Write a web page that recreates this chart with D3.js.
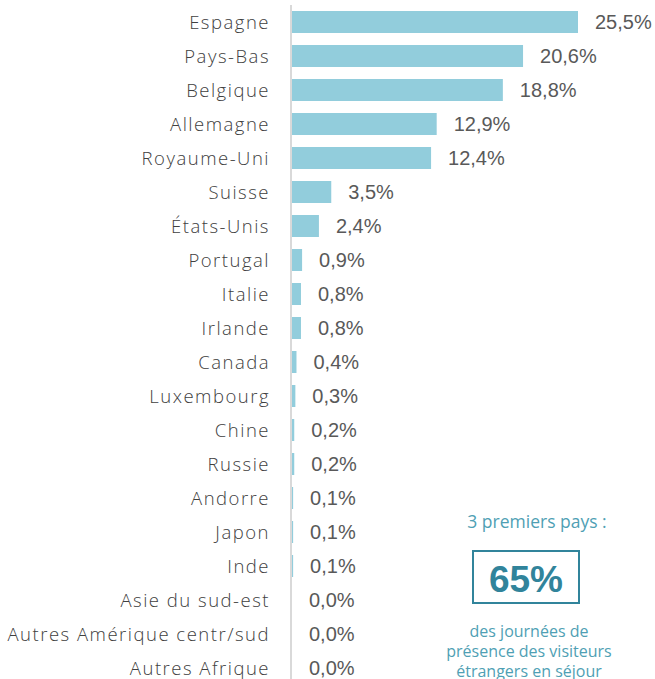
<!DOCTYPE html>
<html>
<head>
<meta charset="utf-8">
<script src="https://cdn.jsdelivr.net/npm/d3@7"></script>
<style>
  html, body { margin: 0; padding: 0; background: #fff; }
  svg { display: block; }
</style>
</head>
<body>
<svg id="chart" width="655" height="679"></svg>
<script>
const categories = ["Espagne","Pays-Bas","Belgique","Allemagne","Royaume-Uni","Suisse","États-Unis","Portugal","Italie","Irlande","Canada","Luxembourg","Chine","Russie","Andorre","Japon","Inde","Asie du sud-est","Autres Amérique centr/sud","Autres Afrique"];
const values = [25.5,20.6,18.8,12.9,12.4,3.5,2.4,0.9,0.8,0.8,0.4,0.3,0.2,0.2,0.1,0.1,0.1,0.0,0.0,0.0];
const calloutTitle = "3 premiers pays :";
const calloutValue = "65%";
const calloutLines = ["des journées de","présence des visiteurs","étrangers en séjour"];

const svg = d3.select("#chart");
const x = d3.scaleLinear().domain([0, 25.5]).range([292, 578]);
const y = d3.scaleBand().domain(categories).range([5, 685]).paddingInner(0.353).paddingOuter(0.1765);

// axis line
svg.append("line")
  .attr("x1", 291).attr("x2", 291)
  .attr("y1", 5).attr("y2", 685)
  .attr("stroke", "#d9d9d9").attr("stroke-width", 2);

svg.append("g").selectAll("rect").data(categories).join("rect")
  .attr("x", x(0))
  .attr("y", d => y(d))
  .attr("width", (d, i) => Math.max(0, x(values[i]) - x(0)))
  .attr("height", y.bandwidth())
  .attr("fill", "#92CDDC");

const fmt = v => v.toFixed(1).replace(".", ",") + "%";

svg.append("g").selectAll("text").data(categories).join("text")
  .attr("x", (d, i) => x(values[i]) + 17)
  .attr("y", d => y(d) + y.bandwidth() / 2)
  .attr("dy", "0.36em")
  .attr("font-family", "Liberation Sans, Arial, sans-serif")
  .attr("font-size", 20)
  .attr("fill", "#595959")
  .text((d, i) => fmt(values[i]));

svg.append("g").selectAll("text").data(categories).join("text")
  .attr("x", 270)
  .attr("y", d => y(d) + y.bandwidth() / 2)
  .attr("dy", "0.36em")
  .attr("text-anchor", "end")
  .attr("font-family", "Open Sans, sans-serif")
  .attr("font-size", 18.5)
  .attr("font-weight", 300)
  .attr("letter-spacing", 1.5)
  .attr("fill", "#404040")
  .text(d => d);

// callout
svg.append("text")
  .attr("x", 537).attr("y", 528)
  .attr("text-anchor", "middle")
  .attr("font-family", "Open Sans, sans-serif")
  .attr("font-size", 17.5)
  .attr("fill", "#4f9fb4")
  .text(calloutTitle);

svg.append("rect")
  .attr("x", 473).attr("y", 551).attr("width", 106).attr("height", 52)
  .attr("fill", "none").attr("stroke", "#31849B").attr("stroke-width", 2);

svg.append("text")
  .attr("x", 526).attr("y", 592)
  .attr("text-anchor", "middle")
  .attr("font-family", "Liberation Sans, Arial, sans-serif")
  .attr("font-size", 37)
  .attr("font-weight", "bold")
  .attr("fill", "#31849B")
  .text(calloutValue);

svg.append("g").selectAll("text").data(calloutLines).join("text")
  .attr("x", 529)
  .attr("y", (d, i) => 637 + i * 20)
  .attr("text-anchor", "middle")
  .attr("font-family", "Open Sans, sans-serif")
  .attr("font-size", 16)
  .attr("fill", "#4f9fb4")
  .text(d => d);
</script>
</body>
</html>
